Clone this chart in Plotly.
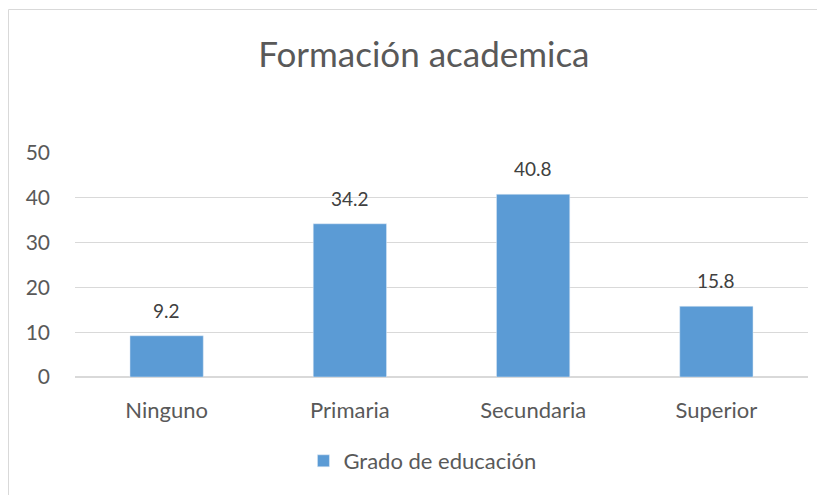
import plotly.graph_objects as go

# data
categorias = ['Ninguno', 'Primaria', 'Secundaria', 'Superior']
porcentajes = [9.2, 34.2, 40.8, 15.8]
serie = 'Grado de educación'
titulo = 'Formación academica'
y_ticks = [0, 10, 20, 30, 40, 50]

FONT = 'Lato, "Open Sans", sans-serif'

fig = go.Figure()
fig.add_trace(go.Bar(
    x=categorias,
    y=porcentajes,
    name=serie,
    marker_color='#5B9BD5',
    showlegend=True,
))

# data labels above the bars
for c, v in zip(categorias, porcentajes):
    fig.add_annotation(x=c, y=v, text=str(v), showarrow=False, yanchor='bottom',
                       yshift=12, font=dict(size=19, color='#404040', family=FONT))

# page body has an 8px margin, so the figure is drawn 8px smaller
fig.update_layout(
    width=817,
    height=487,
    margin=dict(l=67, r=17, t=145, b=118, autoexpand=False),
    paper_bgcolor='white',
    plot_bgcolor='white',
    bargap=0.6,
    font=dict(family=FONT, color='#595959', size=20),
    title=dict(text=titulo, x=0.509, xanchor='center', y=0.9035, yanchor='middle',
               font=dict(size=35, color='#595959', family=FONT)),
    legend=dict(orientation='h', x=0.474, xanchor='center', y=-0.375, yanchor='middle',
                font=dict(size=22, color='#595959')),
    # light chart-area border
    shapes=[dict(type='rect', xref='paper', yref='paper',
                 x0=-0.0907, x1=1.03, y0=-0.6, y1=1.6406,
                 line=dict(color='#d9d9d9', width=1), layer='below')],
)

fig.update_yaxes(range=[0, 50], tickvals=y_ticks, showgrid=True, gridcolor='#d9d9d9',
                 zeroline=True, zerolinecolor='#d9d9d9', showline=False,
                 ticks='', ticklabelstandoff=24, tickfont=dict(size=21))
fig.update_xaxes(showline=True, linecolor='#d9d9d9', ticks='', tickfont=dict(size=22),
                 ticklabelstandoff=14)

fig.write_html('out.html')
